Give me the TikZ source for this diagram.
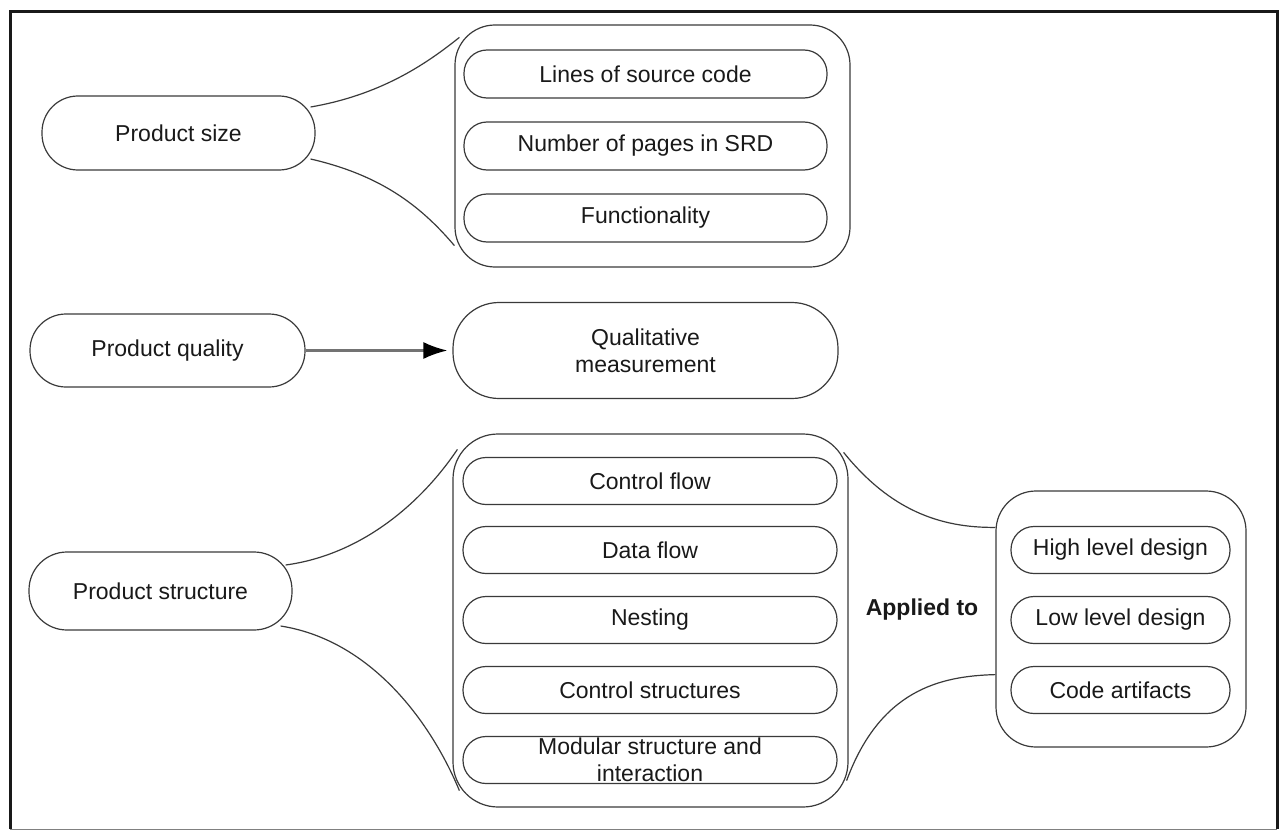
\documentclass[tikz,border=0pt]{standalone}
\usepackage{fontspec}
\setmainfont{Liberation Sans}
\usetikzlibrary{arrows.meta}
\definecolor{ln}{HTML}{3A3A3A}
\tikzset{
  box/.style={draw=ln, line width=1.2pt, rectangle, inner sep=0pt, align=center,
    font=\fontsize{23}{27}\selectfont, text=black!90},
  pill/.style={box, minimum width=363pt, minimum height=48pt, rounded corners=23pt},
  spill/.style={box, minimum width=219pt, minimum height=47pt, rounded corners=23pt},
  conn/.style={draw=ln, line width=1.2pt},
}
\begin{document}
\begin{tikzpicture}[x=1pt,y=-1pt]
\useasboundingbox (0,0) rectangle (1284,832);
\draw[line width=1pt, black!50] (10,829) -- (1277,829);
\draw[line width=3pt, black!90] (10,829) -- (10,12) -- (1277,12) -- (1277,829);

% Product size group
\node[box, minimum width=273pt, minimum height=74pt, rounded corners=36pt] (psize) at (178.5,133) {Product size};
\node[box, minimum width=395pt, minimum height=242pt, rounded corners=40pt] (sizebox) at (652.5,146) {};
\node[pill] (lines) at (645.5,74) {Lines of source code};
\node[pill] (pages) at (645.5,146) {Number of pages in SRD};
\node[pill] (func) at (645.5,218) {Functionality};
\draw[conn] ([shift={(-5,-26)}]psize.east) .. controls (380,95) and (425,65) .. ([shift={(5,13)}]sizebox.north west);
\draw[conn] ([shift={(-5,26)}]psize.east) .. controls (380,175) and (420,205) .. ([shift={(0,-22)}]sizebox.south west);

% Product quality
\node[box, minimum width=275pt, minimum height=73pt, rounded corners=36pt] (pquality) at (167.5,350.5) {Product quality};
\node[box, minimum width=385pt, minimum height=96pt, rounded corners=46pt] (qual) at (645.5,350.5) {Qualitative\\measurement};
\draw[draw=black!55, line width=2.2pt, -{Latex[length=24pt,width=17pt,black]}, shorten >=5pt] (pquality.east) -- (qual.west);

% Product structure
\node[box, minimum width=263pt, minimum height=78pt, rounded corners=38pt] (pstruct) at (160.5,591) {Product structure};
\node[box, minimum width=395pt, minimum height=373pt, rounded corners=45pt] (structbox) at (650.5,620.5) {};
\node[pill, minimum width=374pt, minimum height=47pt] (cflow) at (650,481) {Control flow};
\node[pill, minimum width=374pt, minimum height=47pt] (dflow) at (650,550) {Data flow};
\node[pill, minimum width=374pt, minimum height=47pt] (nest) at (650,620) {Nesting};
\node[pill, minimum width=374pt, minimum height=47pt] (cstruct) at (650,690) {Control structures};
\node[pill, minimum width=374pt, minimum height=47pt] (modular) at (650,760) {Modular structure and\\interaction};
\draw[conn] ([shift={(-7,-26)}]pstruct.east) .. controls (360,555) and (420,505) .. ([shift={(5,16)}]structbox.north west);
\draw[conn] ([shift={(-12,35)}]pstruct.east) .. controls (370,640) and (430,720) .. ([shift={(7,-17)}]structbox.south west);

% Applied to
\node[font=\fontsize{23}{27}\selectfont\bfseries, text=black!90] (applied) at (922,610) {Applied to};
\node[box, minimum width=250pt, minimum height=256pt, rounded corners=40pt] (appbox) at (1121,619) {};
\node[spill] (high) at (1120.5,550) {High level design};
\node[spill] (low) at (1120.5,620) {Low level design};
\node[spill] (code) at (1120.5,690) {Code artifacts};
\draw[conn] ([shift={(-5,19)}]structbox.north east) .. controls (890,510) and (940,528) .. ([shift={(0,37)}]appbox.north west);
\draw[conn] ([shift={(-2,-27)}]structbox.south east) .. controls (880,690) and (940,676) .. ([shift={(0,-73)}]appbox.south west);
\end{tikzpicture}
\end{document}
